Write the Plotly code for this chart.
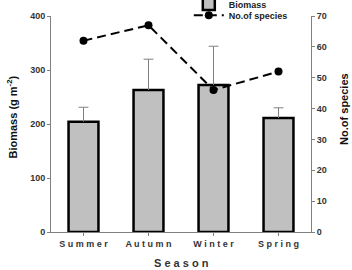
import plotly.graph_objects as go

seasons = ["Summer", "Autumn", "Winter", "Spring"]
season_labels = ["S u m m e r", "A u t u m n", "W i n t e r", "S p r i n g"]
biomass = [204, 263, 272, 211]
biomass_err_upper = [231, 320, 344, 230]
species = [62, 67, 46, 52]

err_plus = [u - v for u, v in zip(biomass_err_upper, biomass)]

FONT = "Liberation Sans, Arial, sans-serif"
AX = "#808080"
LEGFONT = dict(size=9, weight="bold", color="#222")

fig = go.Figure()
fig.add_trace(go.Bar(
    x=seasons, y=biomass, name="Biomass", legend="legend",
    width=0.46,
    marker=dict(color="#c0c0c0", line=dict(color="black", width=2.5)),
    error_y=dict(type="data", symmetric=False, array=err_plus,
                 arrayminus=[0] * 4, color=AX, thickness=1, width=0),
))
# error bar caps (top only)
fig.add_trace(go.Scatter(
    x=seasons, y=biomass_err_upper, mode="markers", showlegend=False,
    hoverinfo="skip",
    marker=dict(symbol="line-ew", size=7, color=AX, line=dict(color=AX, width=1)),
))
fig.add_trace(go.Scatter(
    x=seasons, y=species, name="No.of species", yaxis="y2", legend="legend2",
    mode="lines+markers",
    line=dict(color="black", width=2, dash="9px,5px"),
    marker=dict(color="black", size=8),
))

fig.update_layout(
    width=352, height=270,
    margin=dict(l=51, r=41, t=16, b=38, autoexpand=False),
    plot_bgcolor="white", paper_bgcolor="white",
    font=dict(family=FONT, color="#222", size=9),
    showlegend=True,
    legend=dict(x=0.53, y=1.055, xanchor="left", yanchor="middle",
                bgcolor="rgba(0,0,0,0)", font=LEGFONT, itemwidth=30,
                borderwidth=0),
    legend2=dict(x=0.53, y=1.003, xanchor="left", yanchor="middle",
                 bgcolor="rgba(0,0,0,0)", font=LEGFONT, itemwidth=30,
                 borderwidth=0),
    xaxis=dict(
        tickmode="array", tickvals=seasons, ticktext=season_labels,
        range=[-0.5, 3.5], showline=True, linecolor=AX, linewidth=1,
        ticks="outside", ticklen=3, tickcolor=AX,
        tickfont=dict(size=9, weight="bold", color="#333"),
        showgrid=False, zeroline=False,
    ),
    yaxis=dict(
        range=[0, 400], tickvals=[0, 100, 200, 300, 400],
        showline=True, linecolor=AX, linewidth=1,
        ticks="outside", ticklen=3, tickcolor=AX,
        tickfont=dict(size=9, weight="bold", color="#333"),
        showgrid=False, zeroline=False,
    ),
    yaxis2=dict(
        range=[0, 70], tickvals=[0, 10, 20, 30, 40, 50, 60, 70],
        overlaying="y", side="right",
        showline=True, linecolor=AX, linewidth=1,
        ticks="outside", ticklen=3, tickcolor=AX,
        tickfont=dict(size=9, weight="bold", color="#333"),
        showgrid=False, zeroline=False,
    ),
    annotations=[
        dict(text="S e a s o n", x=0.5, y=-0.142, xref="paper", yref="paper",
             xanchor="center", yanchor="middle", showarrow=False,
             font=dict(size=11, weight="bold", color="#333")),
        dict(text="Biomass (g m<sup>-2</sup>)", x=-0.15, y=0.53, xref="paper", yref="paper",
             xanchor="center", yanchor="middle", showarrow=False, textangle=-90,
             font=dict(size=11, weight="bold", color="#111")),
        dict(text="No.of species", x=1.127, y=0.57, xref="paper", yref="paper",
             xanchor="center", yanchor="middle", showarrow=False, textangle=-90,
             font=dict(size=11, weight="bold", color="#111")),
    ],
)

fig.write_html("out.html")
